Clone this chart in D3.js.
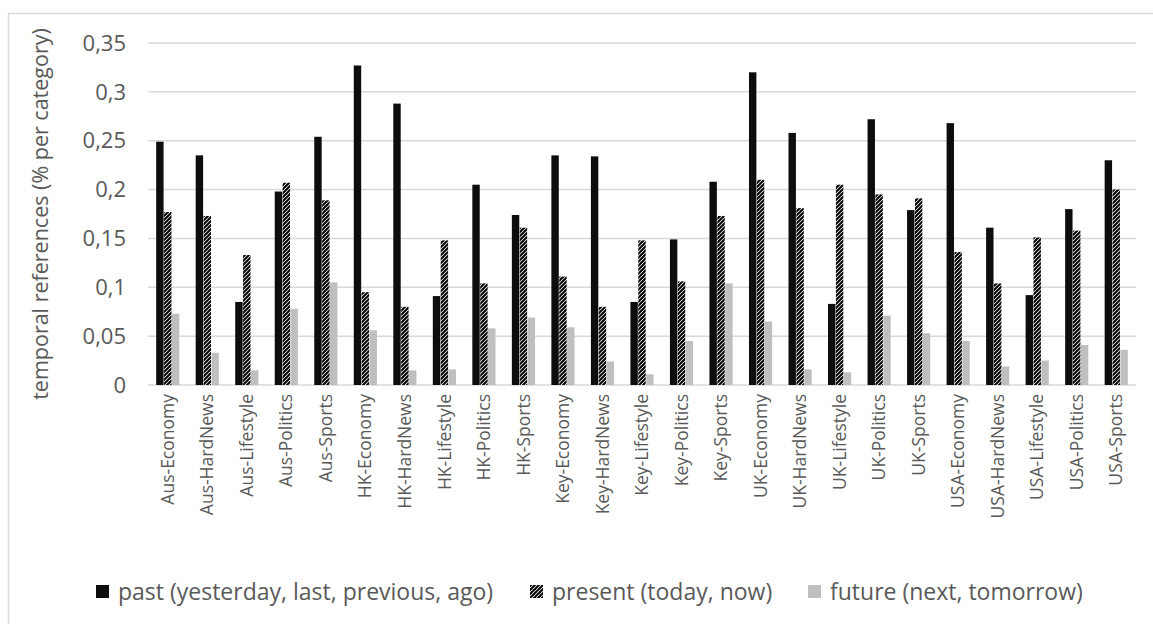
<!DOCTYPE html>
<html><head><meta charset="utf-8">
<script src="https://cdn.jsdelivr.net/npm/d3@7"></script>
<style>body{margin:0;background:#fff}svg{display:block}text{font-family:"Open Sans",sans-serif}</style>
</head><body><svg id="c" width="1153" height="624"></svg>
<script>
const categories = ["Aus-Economy","Aus-HardNews","Aus-Lifestyle","Aus-Politics","Aus-Sports","HK-Economy","HK-HardNews","HK-Lifestyle","HK-Politics","HK-Sports","Key-Economy","Key-HardNews","Key-Lifestyle","Key-Politics","Key-Sports","UK-Economy","UK-HardNews","UK-Lifestyle","UK-Politics","UK-Sports","USA-Economy","USA-HardNews","USA-Lifestyle","USA-Politics","USA-Sports"];
const seriesNames = ["past (yesterday, last, previous, ago)","present (today, now)","future (next, tomorrow)"];
const past    = [0.249,0.235,0.085,0.198,0.254,0.327,0.288,0.091,0.205,0.174,0.235,0.234,0.085,0.149,0.208,0.320,0.258,0.083,0.272,0.179,0.268,0.161,0.092,0.180,0.230];
const present = [0.177,0.173,0.133,0.207,0.189,0.095,0.080,0.148,0.104,0.161,0.111,0.080,0.148,0.106,0.173,0.210,0.181,0.205,0.195,0.191,0.136,0.104,0.151,0.158,0.200];
const future  = [0.073,0.033,0.015,0.078,0.105,0.056,0.015,0.016,0.058,0.069,0.059,0.024,0.011,0.045,0.104,0.065,0.016,0.013,0.071,0.053,0.045,0.019,0.025,0.041,0.036];
const yTicks = [0,0.05,0.1,0.15,0.2,0.25,0.3,0.35];

const series = [past, present, future];
const svg = d3.select("#c");
const m = {l:148, r:1136, t:43, b:385};
const textCol = "#595959", gridCol = "#d9d9d9";

const defs = svg.append("defs");
const pat = defs.append("pattern").attr("id","hatch").attr("patternUnits","userSpaceOnUse")
  .attr("width",4).attr("height",4);
pat.append("rect").attr("width",4).attr("height",4).attr("fill","#fff");
pat.append("path").attr("d","M-1,1 l2,-2 M0,4 l4,-4 M3,5 l2,-2").attr("stroke","#000").attr("stroke-width",2);
const fills = ["#0d0d0d","url(#hatch)","#bfbfbf"];

svg.append("rect").attr("x",8.5).attr("y",13.5).attr("width",1160).attr("height",640)
  .attr("fill","none").attr("stroke","#d9d9d9").attr("stroke-width",1.5);

const y = d3.scaleLinear().domain([0,0.35]).range([m.b,m.t]);
const x0 = d3.scaleBand().domain(categories).range([m.l,m.r]).paddingInner(0.39).paddingOuter(0.195);
const x1 = d3.scaleBand().domain([0,1,2]).range([0,x0.bandwidth()]).padding(0.06);

svg.append("g").selectAll("line").data(yTicks).join("line")
  .attr("x1",m.l).attr("x2",m.r).attr("y1",d=>y(d)).attr("y2",d=>y(d))
  .attr("stroke",gridCol).attr("stroke-width",1.5);

const fmt = d => d===0 ? "0" : String(+d.toFixed(2)).replace(".",",");
svg.append("g").selectAll("text").data(yTicks).join("text")
  .attr("x",126).attr("y",d=>y(d)).attr("dy","0.35em").attr("text-anchor","end")
  .attr("fill",textCol).attr("font-size",22).text(fmt);

const g = svg.append("g");
categories.forEach((c,i)=>{
  series.forEach((s,j)=>{
    g.append("rect").attr("x",x0(c)+x1(j)).attr("width",x1.bandwidth())
      .attr("y",y(s[i])).attr("height",y(0)-y(s[i])).attr("fill",fills[j]);
  });
});

svg.append("g").selectAll("text").data(categories).join("text")
  .attr("transform",d=>`translate(${x0(d)+x0.bandwidth()/2},394) rotate(-90)`)
  .attr("dy","0.35em").attr("text-anchor","end").attr("fill",textCol).attr("font-size",17.5).text(d=>d);

svg.append("text").attr("transform",`translate(40,${(m.t+m.b)/2}) rotate(-90)`)
  .attr("dy","0.35em").attr("text-anchor","middle").attr("fill",textCol).attr("font-size",21.5)
  .text("temporal references (% per category)");

const legX = [96,530,808];
seriesNames.forEach((n,j)=>{
  svg.append("rect").attr("x",legX[j]).attr("y",585).attr("width",13).attr("height",13).attr("fill",fills[j]);
  svg.append("text").attr("x",legX[j]+22).attr("y",591.5).attr("dy","0.35em").attr("fill",textCol)
    .attr("font-size",23).text(n);
});
</script></body></html>
